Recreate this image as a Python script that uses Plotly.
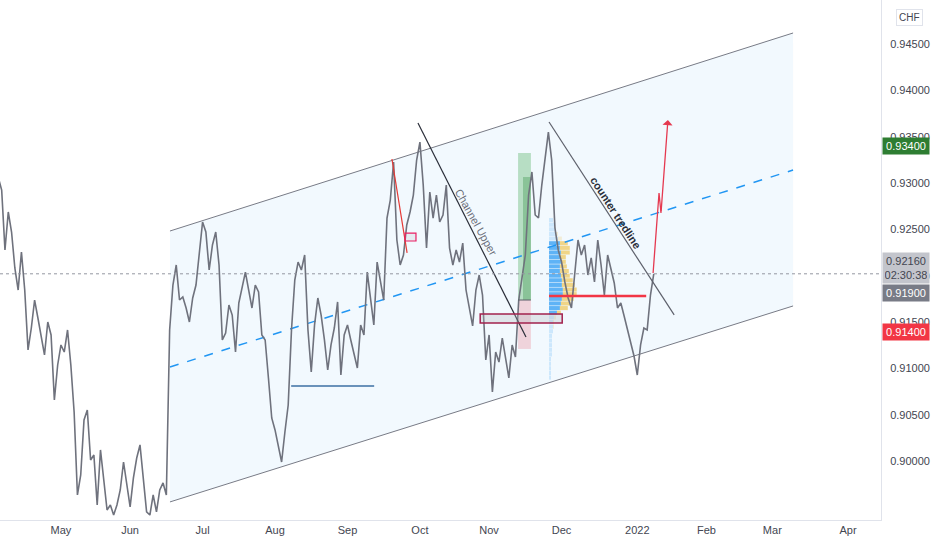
import plotly.graph_objects as go

# daily closes, USD/CHF, bar 0 ~ 7 Apr 2021 (trading days only)
close = [
    0.93054, 0.92924, 0.92277, 0.92687, 0.92471, 0.92083, 0.91845, 0.92255, 0.91845, 0.91198,
    0.91435, 0.91737, 0.91543, 0.91360, 0.91144, 0.91500, 0.91360, 0.90658, 0.91036, 0.91252,
    0.91176, 0.91414, 0.91036, 0.90529, 0.89633, 0.89849, 0.90442, 0.90550, 0.90011, 0.90065,
    0.89525, 0.90119, 0.89795, 0.89471, 0.89525, 0.89417, 0.89525, 0.89687, 0.89989, 0.89741,
    0.89504, 0.89817, 0.90032, 0.90173, 0.89795, 0.89450, 0.89417, 0.89633, 0.89450, 0.89687,
    0.89763, 0.89633, 0.91414, 0.91899, 0.92115, 0.91737, 0.91770, 0.91651, 0.91500, 0.91759,
    0.91899, 0.92277, 0.92579, 0.92471, 0.92061, 0.92331, 0.92471, 0.92115, 0.91306, 0.91381,
    0.91683, 0.91575, 0.91176, 0.91705, 0.91867, 0.92039, 0.91845, 0.91651, 0.91899, 0.91824,
    0.91360, 0.91306, 0.90896, 0.90464, 0.90335, 0.90140, 0.89989, 0.90313, 0.90604, 0.91414,
    0.91953, 0.92147, 0.92061, 0.92223, 0.91414, 0.90960, 0.91468, 0.91759, 0.91575, 0.91306,
    0.90982, 0.91252, 0.91435, 0.91716, 0.90928, 0.91360, 0.91468, 0.91306, 0.91144, 0.91004,
    0.91468, 0.91360, 0.92039, 0.91737, 0.91468, 0.92147, 0.91953, 0.91737, 0.92622, 0.92816,
    0.93227, 0.92385, 0.92115, 0.92223, 0.92547, 0.92687, 0.92870, 0.93248, 0.93442, 0.92978,
    0.92298, 0.92903, 0.92622, 0.92870, 0.92579, 0.92655, 0.92978, 0.92298, 0.92115, 0.92277,
    0.92147, 0.92352, 0.91845, 0.91651, 0.91457, 0.91845, 0.92007, 0.91791, 0.91090, 0.91360,
    0.90745, 0.91176, 0.91068, 0.91327, 0.91112, 0.90896, 0.91252, 0.91122, 0.91737, 0.92007,
    0.92223, 0.92870, 0.93119, 0.92655, 0.92622, 0.92978, 0.93270, 0.93550, 0.93248, 0.92514,
    0.92277, 0.92147, 0.91932, 0.91759, 0.91651, 0.92061, 0.92385, 0.92223, 0.92331, 0.92007,
    0.92191, 0.91932, 0.92385, 0.92115, 0.91791, 0.92223, 0.92083, 0.91921, 0.91651, 0.91705,
    0.91565, 0.91414, 0.91284, 0.91133, 0.90928, 0.91252, 0.91435, 0.91414, 0.91791, 0.92018,
]
bars = list(range(len(close)))

month_bars = [19, 40, 62, 84, 106, 128, 149, 171, 194, 215, 235, 258]
month_labels = ["May", "Jun", "Jul", "Aug", "Sep", "Oct", "Nov", "Dec", "2022", "Feb", "Mar", "Apr"]
price_ticks = [0.900, 0.905, 0.910, 0.915, 0.920, 0.925, 0.930, 0.935, 0.940, 0.945]

# parallel channel
chan_x = [52.1, 241.3]
chan_upper = [0.92482, 0.94619]
chan_lower = [0.89558, 0.91673]
chan_mid = [0.91014, 0.93140]

# fixed range volume profile
vp_start = 167.2
vp_levels = [0.9260, 0.9255, 0.9250, 0.9245, 0.9240, 0.9235, 0.9230, 0.9225, 0.9220, 0.9215,
             0.9210, 0.9205, 0.9200, 0.9195, 0.9190, 0.9185, 0.9180, 0.9175, 0.9170, 0.9165,
             0.9160, 0.9155, 0.9150, 0.9145, 0.9140, 0.9135, 0.9130, 0.9125, 0.9120, 0.9115,
             0.9110, 0.9105, 0.9100, 0.9095, 0.9090]
vp_buy = [4, 5, 6, 7, 9, 11, 11, 12, 11, 12, 11, 11, 12, 13, 13, 14, 14, 13, 12, 11,
          8, 5, 4, 4, 4, 3, 3, 3, 3, 3, 2, 2, 2, 2, 2]
vp_sell = [0, 0, 1, 2, 4, 8, 10, 9, 6, 5, 7, 9, 9, 11, 13, 14, 14, 12, 10, 8,
           4, 2, 1, 1, 0, 0, 0, 0, 0, 0, 0, 0, 0, 0, 0]
va_high, va_low = 0.9238, 0.9158
poc = 0.91780
poc_end = 196.7

# drawings
long_x = [157.8, 161.7]
long_tp, long_entry, long_sl = 0.93324, 0.91737, 0.91209
long_fill_x0, long_fill_top = 159.3, 0.93065
zone_x = [146.3, 171.2]
zone_y = [0.91489, 0.91586]
small_box_x = [123.5, 126.8]
small_box_y = [0.92374, 0.92460]
red_leg_x = [119.5, 124.1]
red_leg_y = [0.93259, 0.92245]
ch_upper_x = [127.4, 160.2]
ch_upper_y = [0.93647, 0.91338]
counter_x = [167.2, 205.2]
counter_y = [0.93658, 0.91576]
support_x = [88.9, 114.1]
support_y = 0.90809
proj_x = [198.8, 200.6, 201.2, 203.3]
proj_y = [0.92029, 0.92892, 0.92676, 0.93680]
last_price = 0.9202

fig = go.Figure()

# channel body
fig.add_trace(go.Scatter(
    x=chan_x + chan_x[::-1], y=chan_upper + chan_lower[::-1],
    fill="toself", fillcolor="rgba(33,150,243,0.06)", line=dict(width=0),
    mode="lines", hoverinfo="skip"))
for yy in (chan_upper, chan_lower):
    fig.add_trace(go.Scatter(x=chan_x, y=yy, mode="lines",
                             line=dict(color="#787b86", width=1), hoverinfo="skip"))
fig.add_trace(go.Scatter(x=chan_x, y=chan_mid, mode="lines",
                         line=dict(color="#2196f3", width=1.5, dash="dash"), hoverinfo="skip"))

# long position tool
fig.add_shape(type="rect", x0=long_x[0], x1=long_x[1], y0=long_entry, y1=long_tp,
              fillcolor="rgba(76,175,80,0.35)", line=dict(width=0), layer="below")
fig.add_shape(type="rect", x0=long_fill_x0, x1=long_x[1], y0=long_entry, y1=long_fill_top,
              fillcolor="rgba(56,142,60,0.35)", line=dict(width=0), layer="below")
fig.add_shape(type="rect", x0=long_x[0], x1=long_x[1], y0=long_sl, y1=long_entry,
              fillcolor="rgba(242,54,69,0.2)", line=dict(width=0), layer="below")
fig.add_shape(type="line", x0=long_x[0], x1=long_x[1], y0=long_entry, y1=long_entry,
              line=dict(color="#5d606b", width=1))

# volume profile
in_va = [va_low <= lv <= va_high for lv in vp_levels]
scale = 0.3
buy_w = [b * scale for b in vp_buy]
sell_w = [s * scale for s in vp_sell]
fig.add_trace(go.Bar(
    y=vp_levels, x=buy_w, base=vp_start, orientation="h", width=0.00044,
    marker=dict(color=["rgba(33,150,243,0.7)" if v else "rgba(33,150,243,0.18)" for v in in_va],
                line=dict(width=0)),
    hoverinfo="skip"))
fig.add_trace(go.Bar(
    y=vp_levels, x=sell_w, base=[vp_start + w for w in buy_w], orientation="h", width=0.00044,
    marker=dict(color=["rgba(251,192,45,0.6)" if v else "rgba(251,192,45,0.2)" for v in in_va],
                line=dict(width=0)),
    hoverinfo="skip"))

# price
fig.add_trace(go.Scatter(x=bars, y=close, mode="lines",
                         line=dict(color="#6f727d", width=1.6), hoverinfo="skip"))

# POC line
fig.add_trace(go.Scatter(x=[vp_start, poc_end], y=[poc, poc], mode="lines",
                         line=dict(color="#f23645", width=2.5), hoverinfo="skip"))

# zone rectangles
fig.add_shape(type="rect", x0=zone_x[0], x1=zone_x[1], y0=zone_y[0], y1=zone_y[1],
              fillcolor="rgba(178,181,190,0.3)", line=dict(color="#a3224e", width=1.5))
fig.add_shape(type="rect", x0=small_box_x[0], x1=small_box_x[1], y0=small_box_y[0], y1=small_box_y[1],
              fillcolor="rgba(178,181,190,0.2)", line=dict(color="#e91e63", width=1.2))

# trend lines
fig.add_trace(go.Scatter(x=red_leg_x, y=red_leg_y, mode="lines",
                         line=dict(color="#e53935", width=1.2), hoverinfo="skip"))
fig.add_trace(go.Scatter(x=ch_upper_x, y=ch_upper_y, mode="lines",
                         line=dict(color="#2a2e39", width=1.2), hoverinfo="skip"))
fig.add_trace(go.Scatter(x=counter_x, y=counter_y, mode="lines",
                         line=dict(color="#5d606b", width=1.2), hoverinfo="skip"))
fig.add_trace(go.Scatter(x=support_x, y=[support_y, support_y], mode="lines",
                         line=dict(color="#3d6fa3", width=1.6), hoverinfo="skip"))

# projected path
fig.add_trace(go.Scatter(x=proj_x[:3], y=proj_y[:3], mode="lines",
                         line=dict(color="#e53950", width=1.3), hoverinfo="skip"))
fig.add_annotation(x=proj_x[3], y=proj_y[3], ax=proj_x[2], ay=proj_y[2],
                   xref="x", yref="y", axref="x", ayref="y", text="",
                   showarrow=True, arrowhead=1, arrowsize=1.3, arrowwidth=1.3, arrowcolor="#e53950")

# last price dotted line
fig.add_shape(type="line", xref="paper", x0=0, x1=1, y0=last_price, y1=last_price,
              line=dict(color="#9598a1", width=1, dash="dot"))

# drawing labels
fig.add_annotation(x=145.0, y=0.92579, text="Channel Upper", showarrow=False, textangle=61,
                   font=dict(family="Liberation Sans", size=11, color="#6a6d78"))
fig.add_annotation(x=187.5, y=0.92676, text="<b>counter tredline</b>", showarrow=False, textangle=57,
                   font=dict(family="Liberation Sans", size=11, color="#2a2e39"))

# price scale badges
badges = [
    (0.9340, "0.93400", "#2e7d32", "white"),
    (0.9208, "0.92160<br>02:30:38", "#c3c5cc", "#434651"),
    (0.91813, "0.91900", "#787b86", "white"),
    (0.91392, "0.91400", "#f23645", "white"),
]
for yv, txt, bg, fg in badges:
    fig.add_annotation(xref="paper", x=1, y=yv, xanchor="left", xshift=1, yanchor="middle",
                       text=txt, showarrow=False, bgcolor=bg, borderpad=2, width=42,
                       font=dict(family="Liberation Sans", size=11, color=fg))
fig.add_annotation(xref="paper", yref="paper", x=1, y=0.967, xanchor="left", yanchor="middle",
                   xshift=15, text="CHF", showarrow=False, bgcolor="white",
                   bordercolor="#e0e3eb", borderwidth=1, borderpad=2,
                   font=dict(family="Liberation Sans", size=10, color="#434651"))

fig.update_layout(
    width=932, height=550,
    margin=dict(l=0, r=51, t=0, b=30),
    paper_bgcolor="white", plot_bgcolor="white",
    showlegend=False, barmode="overlay",
    font=dict(family="Liberation Sans", size=11, color="#434651"),
)
fig.update_xaxes(range=[0.49, 268.0], tickvals=month_bars, ticktext=month_labels,
                 showgrid=False, zeroline=False, showline=True, linecolor="#e0e3eb",
                 ticks="", tickfont=dict(size=11, color="#434651"))
fig.update_yaxes(range=[0.89363, 0.94975], side="right", tickvals=price_ticks,
                 tickformat=".5f", showgrid=False, zeroline=False, showline=True,
                 linecolor="#e0e3eb", ticks="", ticklabelstandoff=6,
                 tickfont=dict(size=11, color="#434651"))

# the page body has a default 8px margin; drop it so the figure sits at 0,0
fig.write_html("out.html", config={"displayModeBar": False},
               post_script="document.body.style.margin='0';")
